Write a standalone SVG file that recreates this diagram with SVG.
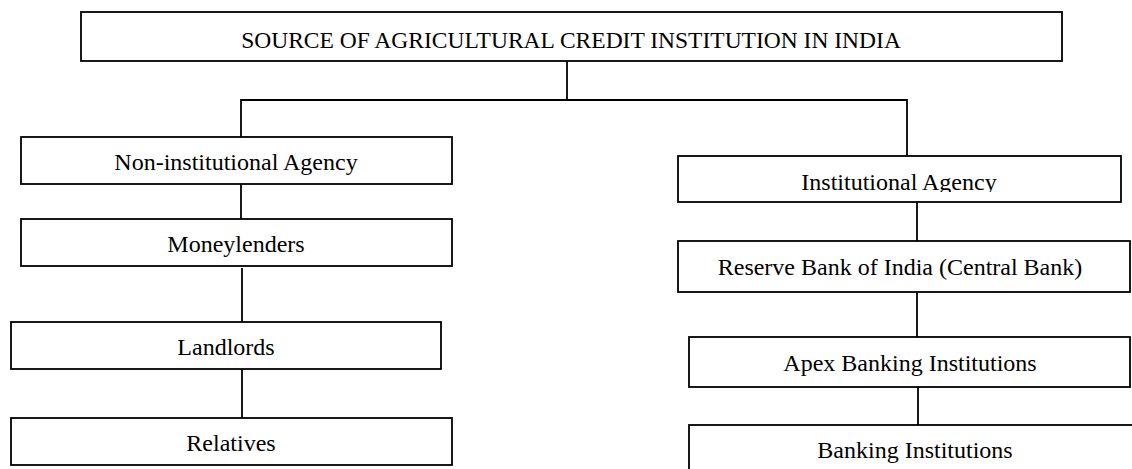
<svg xmlns="http://www.w3.org/2000/svg" width="1132" height="469" viewBox="0 0 1132 469">
<style>
.box{fill:#fff;stroke:#000;stroke-width:1.8}
.ln{stroke:#000;stroke-width:1.8;fill:none}
.t{font-family:"Liberation Serif","Times New Roman",serif;font-size:24px;fill:#000;text-anchor:middle}
.tt{font-family:"Liberation Serif","Times New Roman",serif;font-size:23.5px;fill:#000;text-anchor:middle}
</style>
<defs>
<clipPath id="clipInst"><rect x="678" y="156" width="443" height="36"/></clipPath>
</defs>
<rect width="1132" height="469" fill="#fff"/>
<g id="connectors">
<line class="ln" x1="567" y1="61" x2="567" y2="100"/>
<polyline class="ln" points="241,137 241,100 907,100 907,156"/>
<line class="ln" x1="241" y1="184" x2="241" y2="219"/>
<line class="ln" x1="242" y1="268" x2="242" y2="322"/>
<line class="ln" x1="242" y1="369" x2="242" y2="418"/>
<line class="ln" x1="917" y1="202" x2="917" y2="244"/>
<line class="ln" x1="917" y1="292" x2="917" y2="341"/>
<line class="ln" x1="918" y1="387" x2="918" y2="432"/>
</g>
<g id="root">
<rect class="box" x="81" y="12" width="981" height="49"/>
<text class="tt" x="571" y="48">SOURCE OF AGRICULTURAL CREDIT INSTITUTION IN INDIA</text>
</g>
<g id="noninst">
<rect class="box" x="21" y="137" width="431" height="47"/>
<text class="t" x="236" y="170">Non-institutional Agency</text>
</g>
<g id="moneylenders">
<rect class="box" x="21" y="219" width="431" height="47"/>
<text class="t" x="236" y="252">Moneylenders</text>
</g>
<g id="landlords">
<rect class="box" x="11" y="322" width="430" height="47"/>
<text class="t" x="226" y="355">Landlords</text>
</g>
<g id="relatives">
<rect class="box" x="11" y="418" width="441" height="47"/>
<text class="t" x="231" y="451">Relatives</text>
</g>
<g id="inst">
<rect class="box" x="678" y="156" width="443" height="46"/>
<text class="t" x="899" y="190" clip-path="url(#clipInst)">Institutional Agency</text>
</g>
<g id="rbi">
<rect class="box" x="678" y="241" width="452" height="51"/>
<text class="t" x="900" y="275">Reserve Bank of India (Central Bank)</text>
</g>
<g id="apex">
<rect class="box" x="689" y="337" width="441" height="50"/>
<text class="t" x="910" y="371">Apex Banking Institutions</text>
</g>
<g id="banking">
<rect class="box" x="689" y="425" width="460" height="60"/>
<text class="t" x="915" y="458">Banking Institutions</text>
</g>
</svg>
